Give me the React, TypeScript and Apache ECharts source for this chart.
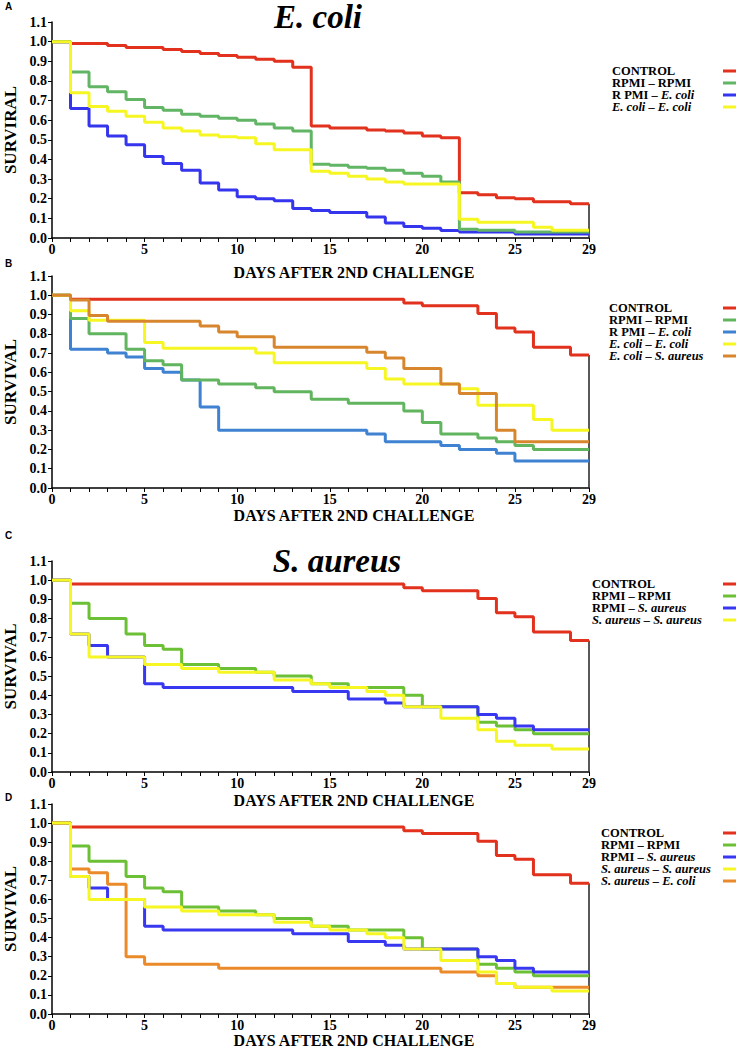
import React, { useEffect, useRef } from "react";
import * as echarts from "echarts";

// ---------- DATA ----------
const xTickLabels = [0, 5, 10, 15, 20, 25, 29];
const xLabel = "DAYS AFTER 2ND CHALLENGE";

// Panel A (E. coli)
const aControlDays = [0, 1, 3, 4, 6, 7, 8, 9, 10, 11, 12, 13, 14, 15, 17, 18, 19, 20, 21, 22, 23, 24, 25, 26, 28, 29];
const aControlVals = [1.0, 0.99, 0.98, 0.97, 0.96, 0.95, 0.94, 0.93, 0.92, 0.91, 0.9, 0.87, 0.57, 0.56, 0.55, 0.545, 0.535, 0.52, 0.51, 0.23, 0.22, 0.205, 0.2, 0.185, 0.175, 0.175];
const aRpmiDays = [0, 1, 2, 3, 4, 5, 6, 7, 8, 9, 10, 11, 12, 13, 14, 15, 16, 17, 18, 19, 20, 21, 22, 23, 25, 29];
const aRpmiVals = [1.0, 0.845, 0.77, 0.745, 0.705, 0.665, 0.65, 0.63, 0.62, 0.61, 0.6, 0.58, 0.56, 0.545, 0.375, 0.37, 0.36, 0.355, 0.345, 0.33, 0.315, 0.285, 0.045, 0.04, 0.03, 0.03];
const aRpmiEcDays = [0, 1, 2, 3, 4, 5, 6, 7, 8, 9, 10, 11, 12, 13, 14, 15, 17, 18, 19, 20, 21, 22, 25, 29];
const aRpmiEcVals = [1.0, 0.66, 0.57, 0.52, 0.475, 0.415, 0.38, 0.345, 0.28, 0.245, 0.21, 0.2, 0.19, 0.15, 0.14, 0.13, 0.107, 0.076, 0.058, 0.05, 0.038, 0.03, 0.02, 0.02];
const aEcEcDays = [0, 1, 2, 3, 4, 5, 6, 7, 8, 9, 10, 11, 12, 14, 15, 16, 17, 18, 19, 22, 23, 26, 27, 29];
const aEcEcVals = [1.0, 0.74, 0.67, 0.645, 0.62, 0.59, 0.56, 0.545, 0.525, 0.515, 0.51, 0.48, 0.45, 0.34, 0.33, 0.315, 0.3, 0.285, 0.275, 0.095, 0.08, 0.055, 0.04, 0.04];

// Panel B
const bControlDays = [0, 1, 19, 20, 23, 24, 25, 26, 28, 29];
const bControlVals = [1.0, 0.98, 0.96, 0.945, 0.905, 0.83, 0.81, 0.73, 0.69, 0.69];
const bRpmiEcDays = [0, 1, 3, 4, 5, 6, 7, 8, 9, 17, 18, 21, 22, 24, 25, 29];
const bRpmiEcVals = [1.0, 0.72, 0.7, 0.68, 0.62, 0.6, 0.56, 0.42, 0.3, 0.28, 0.24, 0.22, 0.2, 0.18, 0.14, 0.14];
const bRpmiDays = [0, 1, 2, 4, 5, 6, 7, 9, 11, 12, 14, 16, 19, 20, 21, 23, 24, 25, 26, 29];
const bRpmiVals = [1.0, 0.88, 0.8, 0.72, 0.66, 0.64, 0.56, 0.54, 0.52, 0.5, 0.46, 0.44, 0.4, 0.34, 0.28, 0.26, 0.24, 0.22, 0.2, 0.2];
const bEcEcDays = [0, 1, 2, 5, 6, 11, 12, 17, 18, 19, 22, 23, 26, 27, 29];
const bEcEcVals = [1.0, 0.92, 0.87, 0.755, 0.725, 0.7, 0.65, 0.62, 0.565, 0.54, 0.515, 0.43, 0.355, 0.3, 0.3];
const bEcSaDays = [0, 1, 2, 3, 8, 9, 10, 12, 17, 18, 19, 21, 22, 24, 25, 29];
const bEcSaVals = [1.0, 0.975, 0.895, 0.865, 0.84, 0.81, 0.785, 0.73, 0.705, 0.675, 0.62, 0.54, 0.49, 0.3, 0.24, 0.24];

// Panels C & D (S. aureus)
const cControlDays = [0, 1, 19, 20, 23, 24, 25, 26, 28, 29];
const cControlVals = [1.0, 0.98, 0.96, 0.945, 0.905, 0.83, 0.81, 0.73, 0.685, 0.685];
const cRpmiDays = [0, 1, 2, 4, 5, 6, 7, 9, 11, 12, 14, 16, 19, 20, 23, 24, 25, 26, 29];
const cRpmiVals = [1.0, 0.88, 0.8, 0.72, 0.66, 0.64, 0.56, 0.54, 0.52, 0.5, 0.46, 0.44, 0.4, 0.34, 0.26, 0.24, 0.22, 0.2, 0.2];
const cRpmiSaDays = [0, 1, 2, 3, 5, 6, 13, 16, 18, 19, 23, 24, 25, 26, 29];
const cRpmiSaVals = [1.0, 0.72, 0.66, 0.6, 0.46, 0.44, 0.42, 0.38, 0.36, 0.34, 0.3, 0.28, 0.24, 0.22, 0.22];
const cSaSaDays = [0, 1, 2, 5, 7, 9, 12, 14, 15, 17, 18, 19, 21, 23, 24, 25, 27, 29];
const cSaSaVals = [1.0, 0.72, 0.6, 0.56, 0.54, 0.52, 0.48, 0.46, 0.44, 0.42, 0.4, 0.34, 0.28, 0.22, 0.16, 0.14, 0.12, 0.12];
const dSaEcDays = [0, 1, 2, 3, 4, 5, 9, 21, 23, 24, 25, 29];
const dSaEcVals = [1.0, 0.76, 0.74, 0.68, 0.3, 0.26, 0.24, 0.22, 0.2, 0.16, 0.14, 0.14];

// Legend labels: [plain part, italic part]
const legendA = [["CONTROL", ""], ["RPMI – RPMI", ""], ["R PMI – ", "E. coli"], ["", "E. coli – E. coli"]];
const legendB = [["CONTROL", ""], ["RPMI – RPMI", ""], ["R PMI – ", "E. coli"], ["", "E. coli – E. coli"], ["", "E. coli – S. aureus"]];
const legendC = [["CONTROL", ""], ["RPMI – RPMI", ""], ["RPMI – ", "S. aureus"], ["", "S. aureus – S. aureus"]];
const legendD = [["CONTROL", ""], ["RPMI – RPMI", ""], ["RPMI – ", "S. aureus"], ["", "S. aureus – S. aureus"], ["", "S. aureus – E. coli"]];

// ---------- STYLE ----------
const FONT = '"Liberation Serif", "Times New Roman", serif';
const RED = "#e2311d";
const YELLOW = "#f6f623";
const colorsA = [RED, "#62b565", "#3535ee", YELLOW];
const colorsB = [RED, "#62b55f", "#3f82d2", YELLOW, "#d8862e"];
const colorsC = [RED, "#6cc036", "#3838f0", YELLOW];
const colorsD = [RED, "#6cc036", "#3838f0", YELLOW, "#ea8a2a"];
const LEGEND_FS = 12.5;
const LEGEND_STEP = 12;

const zip = (d: number[], v: number[]) => d.map((x, i) => [x, v[i]]);

const panels = [
  { top: 22, height: 216, yName: "SURVIRAL", legendX: 612, legendY: 71, legend: legendA, colors: colorsA, xLabelY: 272,
    series: [[aControlDays, aControlVals, 0], [aRpmiEcDays, aRpmiEcVals, 2], [aRpmiDays, aRpmiVals, 1], [aEcEcDays, aEcEcVals, 3]] },
  { top: 276, height: 212, yName: "SURVIVAL", legendX: 609, legendY: 308, legend: legendB, colors: colorsB, xLabelY: 515,
    series: [[bControlDays, bControlVals, 0], [bRpmiEcDays, bRpmiEcVals, 2], [bRpmiDays, bRpmiVals, 1], [bEcEcDays, bEcEcVals, 3], [bEcSaDays, bEcSaVals, 4]] },
  { top: 561, height: 211, yName: "SURVIVAL", legendX: 592, legendY: 584, legend: legendC, colors: colorsC, xLabelY: 800,
    series: [[cControlDays, cControlVals, 0], [cRpmiDays, cRpmiVals, 1], [cRpmiSaDays, cRpmiSaVals, 2], [cSaSaDays, cSaSaVals, 3]] },
  { top: 804, height: 210, yName: "SURVIVAL", legendX: 601, legendY: 833, legend: legendD, colors: colorsD, xLabelY: 1040,
    series: [[cControlDays, cControlVals, 0], [cRpmiDays, cRpmiVals, 1], [cRpmiSaDays, cRpmiSaVals, 2], [dSaEcDays, dSaEcVals, 4], [cSaSaDays, cSaSaVals, 3]] },
];

const panelLetters = [["A", 6], ["B", 263], ["C", 535], ["D", 797]];
const titles = [["E. coli", 318, 17], ["S. aureus", 337, 561]];

export default function App() {
  const ref = useRef<HTMLDivElement>(null);
  useEffect(() => {
    if (!ref.current) return;
    const chart = echarts.init(ref.current, undefined, { renderer: "svg" });
    const grid: any[] = [];
    const xAxis: any[] = [];
    const yAxis: any[] = [];
    const series: any[] = [];
    const graphic: any[] = [];

    panels.forEach((p, i) => {
      grid.push({ left: 52, width: 537, top: p.top, height: p.height, outerBoundsMode: "none", containLabel: false });
      xAxis.push({
        type: "value", gridIndex: i, min: 0, max: 29, interval: 1,
        axisLine: { show: true, onZero: false, lineStyle: { color: "#000", width: 1.5 } },
        axisTick: { show: true, length: 4, lineStyle: { color: "#000", width: 1 } },
        axisLabel: {
          formatter: (v: number) => (xTickLabels.includes(v) ? String(v) : ""),
          color: "#000", fontWeight: "bold", fontSize: 14, fontFamily: FONT, margin: 4,
          showMaxLabel: true, showMinLabel: true, hideOverlap: false,
        },
        splitLine: { show: false },
      });
      yAxis.push({
        type: "value", gridIndex: i, min: 0, max: 1.1, interval: 0.1,
        name: p.yName, nameLocation: "middle", nameGap: 28,
        nameTextStyle: { color: "#000", fontWeight: "bold", fontSize: 17, fontFamily: FONT },
        axisLine: { show: true, lineStyle: { color: "#000", width: 1.5 } },
        axisTick: { show: true, length: 4, lineStyle: { color: "#000", width: 1 } },
        axisLabel: {
          formatter: (v: number) => v.toFixed(1),
          color: "#000", fontWeight: "bold", fontSize: 14, fontFamily: FONT, margin: 5,
          showMaxLabel: true,
        },
        splitLine: { show: false },
      });
      p.series.forEach((s: any, k: number) => {
        series.push({
          type: "line", xAxisIndex: i, yAxisIndex: i, step: "end",
          data: zip(s[0], s[1]), symbol: "none", silent: true,
          lineStyle: { color: p.colors[s[2]], width: 3 },
          itemStyle: { color: p.colors[s[2]] }, z: 2 + k,
        });
      });
      const ctrl = p.series[0][1] as number[];
      series.push({
        type: "line", xAxisIndex: i, yAxisIndex: i, symbol: "none", silent: true,
        data: [[29, 0], [29, ctrl[ctrl.length - 1]]],
        lineStyle: { color: "#222", width: 1.5 }, z: 1,
      });
      // x axis title
      graphic.push({
        type: "text", x: 354, y: p.xLabelY,
        style: { text: xLabel, font: `bold 16px ${FONT}`, fill: "#000", align: "center", verticalAlign: "middle" },
      });
      // legend
      p.legend.forEach((row, r) => {
        const y = p.legendY + r * LEGEND_STEP;
        graphic.push({
          type: "text", x: p.legendX, y,
          style: {
            text: (row[0] ? `{b|${row[0]}}` : "") + (row[1] ? `{i|${row[1]}}` : ""),
            verticalAlign: "middle",
            rich: {
              b: { fontFamily: FONT, fontWeight: "bold", fontSize: LEGEND_FS, fill: "#000", lineHeight: 11 },
              i: { fontFamily: FONT, fontWeight: "bold", fontStyle: "italic", fontSize: LEGEND_FS, fill: "#000", lineHeight: 11 },
            },
          },
        });
        graphic.push({
          type: "line", shape: { x1: 723, y1: y, x2: 736, y2: y },
          style: { stroke: p.colors[r], lineWidth: 3 },
        });
      });
    });

    panelLetters.forEach(([t, y]) => {
      graphic.push({
        type: "text", x: 5, y: y as number,
        style: { text: t as string, font: 'bold 10px "Liberation Sans", Arial, sans-serif', fill: "#000", verticalAlign: "middle" },
      });
    });
    titles.forEach(([t, x, y]) => {
      graphic.push({
        type: "text", x: x as number, y: y as number,
        style: { text: t as string, font: `italic bold 33px ${FONT}`, fill: "#000", align: "center", verticalAlign: "middle" },
      });
    });

    chart.setOption({
      animation: false,
      backgroundColor: "#fff",
      grid, xAxis, yAxis, series, graphic,
    });
    return () => chart.dispose();
  }, []);
  return <div ref={ref} style={{ position: "absolute", left: 0, top: 0, width: 738, height: 1049 }} />;
}
